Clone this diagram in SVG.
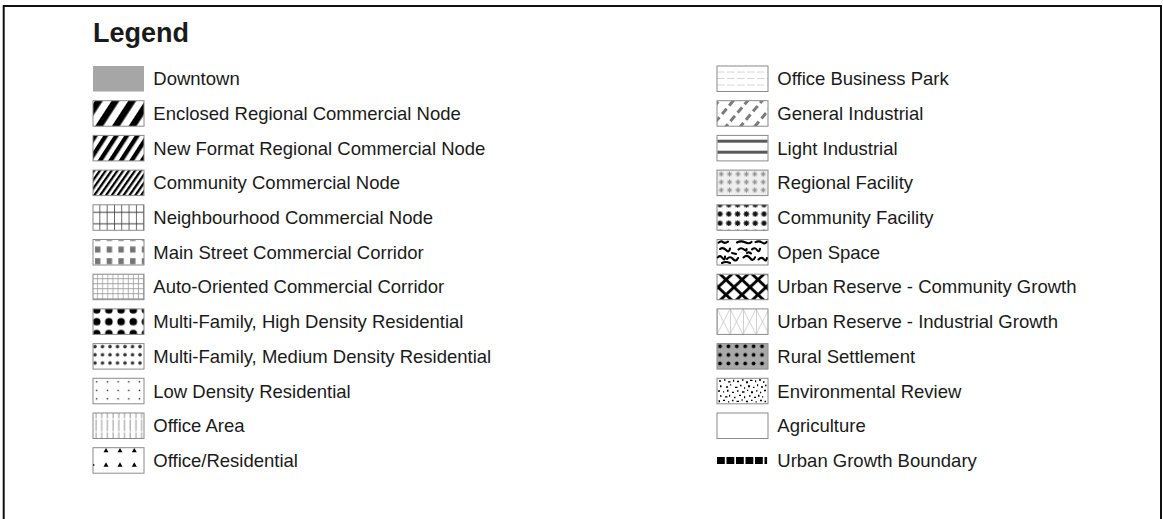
<svg xmlns="http://www.w3.org/2000/svg" width="1163" height="519" viewBox="0 0 1163 519">
<style>
text{font-family:"Liberation Sans",Arial,sans-serif;fill:#1a1a1a}
.lbl{font-size:18.5px}
.title{font-size:27px;font-weight:bold}
.sw{stroke:#8a8a8a;stroke-width:1}
</style>
<defs>
<pattern id="p-enc" width="14" height="12" patternUnits="userSpaceOnUse" patternTransform="translate(2,0) rotate(33)"><rect width="14" height="12" fill="#fff"/><rect width="6.6" height="12" fill="#000"/></pattern>
<pattern id="p-nf" width="8.8" height="8" patternUnits="userSpaceOnUse" patternTransform="rotate(33)"><rect width="8.8" height="8" fill="#fff"/><rect width="4.3" height="8" fill="#000"/></pattern>
<pattern id="p-cc" width="4.8" height="8" patternUnits="userSpaceOnUse" patternTransform="rotate(35)"><rect width="4.8" height="8" fill="#fff"/><rect width="2.3" height="8" fill="#000"/></pattern>
<pattern id="p-nb" width="7.3" height="25.5" patternUnits="userSpaceOnUse"><rect width="7.3" height="25.5" fill="#fff"/><path d="M7,0V25.5M0,7.5H7.3M0,19H7.3" stroke="#333" stroke-width="0.9" fill="none"/></pattern>
<pattern id="p-ms" width="11.7" height="11.7" patternUnits="userSpaceOnUse"><rect width="11.7" height="11.7" fill="#fff"/><rect x="2" y="7" width="5.4" height="4.7" fill="#757575"/><rect x="2" y="0" width="5.4" height="1.4" fill="#757575"/></pattern>
<pattern id="p-ao" width="5.1" height="5" patternUnits="userSpaceOnUse"><rect width="5.1" height="5" fill="#fff"/><path d="M4.6,0V5M0,4.5H5.1" stroke="#9a9a9a" stroke-width="0.8" fill="none"/></pattern>
<pattern id="p-hd" x="-2.4" y="-4.9" width="12.2" height="11.8" patternUnits="userSpaceOnUse"><rect width="12.2" height="11.8" fill="#fff"/><circle cx="6.1" cy="5.9" r="3.8" fill="#000"/></pattern>
<pattern id="p-md" x="-1.75" y="-1.1" width="7.5" height="8.2" patternUnits="userSpaceOnUse"><rect width="7.5" height="8.2" fill="#fff"/><circle cx="3.75" cy="4.1" r="1.75" fill="#333"/></pattern>
<pattern id="p-ld" x="-1.65" y="-0.75" width="10.7" height="8.5" patternUnits="userSpaceOnUse"><rect width="10.7" height="8.5" fill="#fff"/><circle cx="5.35" cy="4.25" r="0.8" fill="#111"/></pattern>
<pattern id="p-oa" width="5.7" height="12.75" patternUnits="userSpaceOnUse"><rect width="5.7" height="12.75" fill="#fff"/><path d="M3,0V12.75" stroke="#888" stroke-width="0.9"/><path d="M2,6H4" stroke="#fff" stroke-width="1.2"/></pattern>
<pattern id="p-obp" width="10" height="6.5" patternUnits="userSpaceOnUse"><rect width="10" height="6.5" fill="#fff"/><path d="M0,6.3H7.5" stroke="#b5b5b5" stroke-width="0.8"/></pattern>
<pattern id="p-gi" width="11" height="11" patternUnits="userSpaceOnUse" patternTransform="rotate(40)"><rect width="11" height="11" fill="#fff"/><rect width="3" height="7" fill="#7a7a7a"/></pattern>
<pattern id="p-rf" width="8.4" height="8" patternUnits="userSpaceOnUse"><rect width="8.4" height="8" fill="#efefef"/><path d="M1.6,4H6.8M4.2,1.4V6.6M2.4,2.2L6,5.8M2.4,5.8L6,2.2" stroke="#8a8a8a" stroke-width="0.9"/></pattern>
<pattern id="p-cf" x="-1.4" y="-4.6" width="8.8" height="9.2" patternUnits="userSpaceOnUse"><rect width="8.8" height="9.2" fill="#fff"/><path d="M1.6,4.6H7.2M4.4,1.8V7.4M2.4,2.6L6.4,6.6M2.4,6.6L6.4,2.6" stroke="#111" stroke-width="1.2"/></pattern>
<pattern id="p-ucg" x="1" y="-2" width="16" height="15" patternUnits="userSpaceOnUse"><rect width="16" height="15" fill="#fff"/><path d="M0,0L16,15M16,0L0,15" stroke="#000" stroke-width="2.8"/></pattern>
<pattern id="p-uig" width="13" height="25.5" patternUnits="userSpaceOnUse"><rect width="13" height="25.5" fill="#fff"/><path d="M0,0L13,25.5M13,0L0,25.5M0.5,0V25.5" stroke="#c4c4c4" stroke-width="0.8" fill="none"/></pattern>
<pattern id="p-rs" x="-1.2" y="-1.6" width="8.4" height="8.6" patternUnits="userSpaceOnUse"><rect width="8.4" height="8.6" fill="#a9a9a9"/><circle cx="4.2" cy="4.3" r="1.9" fill="#000"/></pattern>
</defs>

<path id="frame" d="M3.7,519V6H1161V519" fill="none" stroke="#111" stroke-width="2"/>

<g id="legend-title"><text class="title" x="93" y="41.7">Legend</text></g>

<g id="connectors"></g>

<!-- Left column -->
<g id="downtown" transform="translate(93,66)"><rect width="51" height="25.5" fill="#a6a6a6"/><text class="lbl" x="60.3" y="19.3">Downtown</text></g>
<g id="enclosed-regional" transform="translate(93,100.7)"><rect class="sw" width="51" height="25.5" fill="url(#p-enc)"/><text class="lbl" x="60.3" y="19.3">Enclosed Regional Commercial Node</text></g>
<g id="new-format-regional" transform="translate(93,135.4)"><rect class="sw" width="51" height="25.5" fill="url(#p-nf)"/><text class="lbl" x="60.3" y="19.3">New Format Regional Commercial Node</text></g>
<g id="community-commercial" transform="translate(93,170.1)"><rect class="sw" width="51" height="25.5" fill="url(#p-cc)"/><text class="lbl" x="60.3" y="19.3">Community Commercial Node</text></g>
<g id="neighbourhood-commercial" transform="translate(93,204.8)"><rect class="sw" width="51" height="25.5" fill="url(#p-nb)"/><text class="lbl" x="60.3" y="19.3">Neighbourhood Commercial Node</text></g>
<g id="main-street" transform="translate(93,239.5)"><rect class="sw" width="51" height="25.5" fill="url(#p-ms)" stroke="#bbb"/><text class="lbl" x="60.3" y="19.3">Main Street Commercial Corridor</text></g>
<g id="auto-oriented" transform="translate(93,274.2)"><rect class="sw" width="51" height="25.5" fill="url(#p-ao)"/><text class="lbl" x="60.3" y="19.3">Auto-Oriented Commercial Corridor</text></g>
<g id="mf-high" transform="translate(93,308.9)"><rect class="sw" width="51" height="25.5" fill="url(#p-hd)"/><text class="lbl" x="60.3" y="19.3">Multi-Family, High Density Residential</text></g>
<g id="mf-medium" transform="translate(93,343.6)"><rect class="sw" width="51" height="25.5" fill="url(#p-md)"/><text class="lbl" x="60.3" y="19.3">Multi-Family, Medium Density Residential</text></g>
<g id="low-density" transform="translate(93,378.3)"><rect class="sw" width="51" height="25.5" fill="url(#p-ld)"/><text class="lbl" x="60.3" y="19.3">Low Density Residential</text></g>
<g id="office-area" transform="translate(93,413)"><rect class="sw" width="51" height="25.5" fill="url(#p-oa)"/><text class="lbl" x="60.3" y="19.3">Office Area</text></g>
<g id="office-residential" transform="translate(93,447.7)"><rect class="sw" width="51" height="25.5" fill="#fff"/>
<path d="M10.5,4.5L13,0.3L15.5,4.5ZM24.5,4.5L27,0.3L29.5,4.5ZM38.8,4.5L41.3,0.3L43.8,4.5ZM10.5,19L13,14.5L15.5,19ZM24.5,19L27,14.5L29.5,19ZM38.8,19L41.3,14.5L43.8,19Z" fill="#000"/><rect x="0" y="16.5" width="1.3" height="1.5" fill="#000"/>
<text class="lbl" x="60.3" y="19.3">Office/Residential</text></g>

<!-- Right column -->
<g id="office-business-park" transform="translate(717,66)"><rect class="sw" width="51" height="25.5" fill="url(#p-obp)"/><text class="lbl" x="60.3" y="19.3">Office Business Park</text></g>
<g id="general-industrial" transform="translate(717,100.7)"><rect class="sw" width="51" height="25.5" fill="url(#p-gi)"/><text class="lbl" x="60.3" y="19.3">General Industrial</text></g>
<g id="light-industrial" transform="translate(717,135.4)"><rect class="sw" width="51" height="25.5" fill="#fff"/><rect x="0.5" y="4.3" width="50" height="3" fill="#5a5a5a"/><rect x="0.5" y="15.3" width="50" height="3" fill="#5a5a5a"/><text class="lbl" x="60.3" y="19.3">Light Industrial</text></g>
<g id="regional-facility" transform="translate(717,170.1)"><rect class="sw" width="51" height="25.5" fill="url(#p-rf)"/><text class="lbl" x="60.3" y="19.3">Regional Facility</text></g>
<g id="community-facility" transform="translate(717,204.8)"><rect class="sw" width="51" height="25.5" fill="url(#p-cf)"/><text class="lbl" x="60.3" y="19.3">Community Facility</text></g>
<g id="open-space" transform="translate(717,239.5)"><rect class="sw" width="51" height="25.5" fill="#fff"/>
<path d="M1.5,3.2Q4,1 6,2.6T11,2.2M20,3Q24,0.8 28,2.8T34.5,2.4M38.5,2.6Q42,1 45,3T49.5,2.4M3,9.5Q6,7.2 9,10.5T13,9M21.5,10Q24,7.5 27,10T29.5,9.5M35,9.8Q38,7.5 40,10.5T43,9.2M0.8,18Q3,15 5.5,18.5T8,17M10,19.5Q13,16 16,19.5T21,18.5M26.5,18Q30,14.5 33,18.5T38,17.8M41.5,20Q44.5,16.8 47,19.8T49.8,18.5M5,23.5Q9,21.5 13,23.5M15,13.5L19,14.5M30,13.5Q32,12 34,14" stroke="#000" stroke-width="2.1" fill="none" stroke-linecap="round"/>
<text class="lbl" x="60.3" y="19.3">Open Space</text></g>
<g id="urban-reserve-community" transform="translate(717,274.2)"><rect class="sw" width="51" height="25.5" fill="url(#p-ucg)"/><text class="lbl" x="60.3" y="19.3">Urban Reserve - Community Growth</text></g>
<g id="urban-reserve-industrial" transform="translate(717,308.9)"><rect class="sw" width="51" height="25.5" fill="url(#p-uig)" stroke="#aaa"/><text class="lbl" x="60.3" y="19.3">Urban Reserve - Industrial Growth</text></g>
<g id="rural-settlement" transform="translate(717,343.6)"><rect class="sw" width="51" height="25.5" fill="url(#p-rs)"/><text class="lbl" x="60.3" y="19.3">Rural Settlement</text></g>
<g id="environmental-review" transform="translate(717,378.3)"><rect class="sw" width="51" height="25.5" fill="#fff"/>
<path d="M2,2h2v1.5h-2zM7,1h1.5v1.5h-1.5zM11,3h2.5v1.2h-2.5zM16,1.5h1.2v2h-1.2zM20,2.5h2v1.5h-2zM25,1h1.5v1.5h-1.5zM29,3h2v2h-2zM33,1.5h2.5v1.2h-2.5zM38,2h1.2v2h-1.2zM42,1h2v1.5h-2zM46,3h1.5v1.5h-1.5zM3,7h1.5v2h-1.5zM9,8h2v1.5h-2zM13,6h1.2v1.2h-1.2zM18,8.5h2.5v1.2h-2.5zM23,6.5h1.5v1.5h-1.5zM27,9h1.2v1.5h-1.2zM31,7h2v2h-2zM36,8.5h1.5v1.2h-1.5zM40,6h1.2v2h-1.2zM44,8h2v1.5h-2zM48,6.5h1.5v1.5h-1.5zM1,12h2v1.5h-2zM6,13h1.2v1.2h-1.2zM10,11.5h1.5v2h-1.5zM15,13.5h2v1.2h-2zM20,12h1.5v1.5h-1.5zM25,13h2.5v1.5h-2.5zM30,11.5h1.2v1.2h-1.2zM34,13h2v2h-2zM39,12h1.5v1.2h-1.5zM43,13.5h1.2v1.5h-1.2zM47,11.5h2v1.5h-2zM3,17h1.5v1.5h-1.5zM8,18h2.5v1.2h-2.5zM12,16.5h1.2v2h-1.2zM17,18.5h1.5v1.5h-1.5zM22,16.5h2v1.2h-2zM27,18h1.2v2h-1.2zM32,17h1.5v1.5h-1.5zM37,18.5h2v1.2h-2zM41,16.5h1.5v2h-1.5zM45,18h1.2v1.2h-1.2zM1.5,22h1.5v2h-1.5zM6,21.5h2v1.2h-2zM11,23h1.2v1.2h-1.2zM15,21.5h1.5v1.5h-1.5zM19.5,22.5h2.5v1.2h-2.5zM24.5,21h1.2v1.5h-1.2zM29,22.5h2v1.5h-2zM34,21.5h1.5v1.2h-1.5zM38.5,23h1.2v1.2h-1.2zM43,21.5h2v1.5h-2zM47.5,22.5h1.5v1.5h-1.5z" fill="#000"/>
<text class="lbl" x="60.3" y="19.3">Environmental Review</text></g>
<g id="agriculture" transform="translate(717,413)"><rect class="sw" width="51" height="25.5" fill="#fff"/><text class="lbl" x="60.3" y="19.3">Agriculture</text></g>
<g id="urban-growth-boundary" transform="translate(717,447.7)"><path d="M0,9.3h7.8v7h-7.8zM9.5,9.3h7.8v7h-7.8zM19,9.3h7.8v7h-7.8zM28.5,9.3h7.8v7h-7.8zM38,9.3h7.8v7h-7.8zM47.5,9.3h2.6v7h-2.6z" fill="#000"/><text class="lbl" x="60.3" y="19.3">Urban Growth Boundary</text></g>
</svg>
